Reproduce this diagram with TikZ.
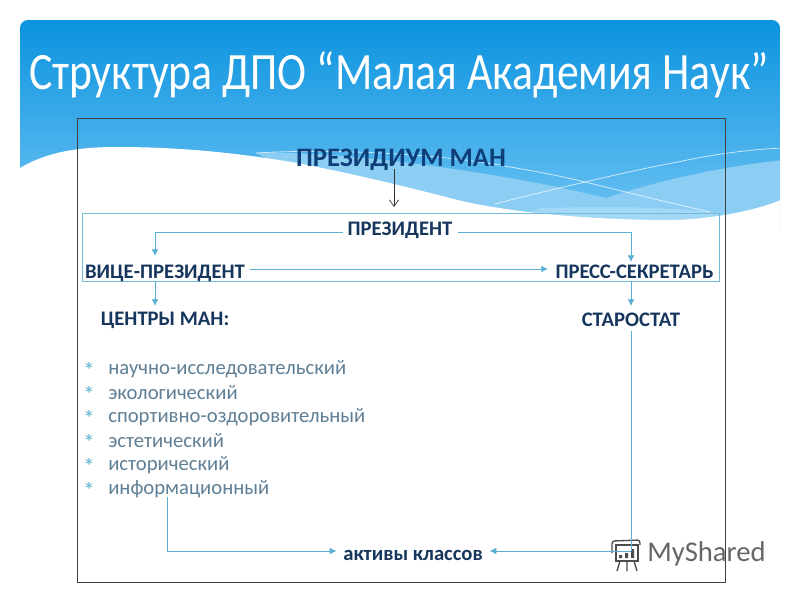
\documentclass[tikz,border=0pt]{standalone}
\usepackage{fontspec}
\setmainfont{Carlito}
\usetikzlibrary{positioning,arrows.meta}
\definecolor{deepblue}{HTML}{0B93DF}
\definecolor{midblue}{HTML}{5DBBF0}
\definecolor{paleblue}{HTML}{8CCDF3}
\definecolor{palerblue}{HTML}{A3D7F6}
\definecolor{linkblue}{HTML}{5AB0D2}
\definecolor{inkblue}{HTML}{17365D}
\definecolor{topblue}{HTML}{0F3F78}
\definecolor{listgrey}{HTML}{5F7F96}
\tikzstyle{lnk}=[draw=linkblue,line width=0.6pt]
\tikzstyle{arr}=[lnk,-{Latex[length=5pt,width=5pt]}]
\tikzstyle{head}=[inkblue,font=\fontsize{15.5}{18}\selectfont\bfseries,inner sep=1pt]
\tikzstyle{entry}=[listgrey,font=\fontsize{15.5}{18}\selectfont,inner sep=0pt,anchor=west]
\tikzstyle{bullet}=[linkblue,font=\fontsize{17}{18}\selectfont,inner sep=0pt]
\begin{document}
\begin{tikzpicture}[x=0.75pt,y=-0.75pt]
	\useasboundingbox (0,0) rectangle (800,600);
	\fill[white] (0,0) rectangle (800,600);
	% backdrop
	\begin{scope}
		\clip[rounded corners=6pt] (20,20) rectangle (780,300);
		\shade[top color=deepblue,bottom color=midblue] (20,20) rectangle (780,190);
		\fill[midblue] (20,190) rectangle (780,225);
		\fill[paleblue] (256,153) .. controls (340,150) and (500,172) .. (606,198)
			.. controls (660,180) and (730,165) .. (785,160)
			-- (785,230) -- (400,230) -- cycle;
		\fill[palerblue] (540,208) .. controls (590,207) and (650,205) .. (718,213)
			-- (718,230) -- (500,230) -- cycle;
		\fill[white] (20,168) .. controls (50,150) and (85,147) .. (118,147)
			.. controls (190,147) and (250,155) .. (297,163)
			.. controls (340,171) and (400,185) .. (446,197)
			.. controls (500,212) and (590,220) .. (667,220)
			.. controls (710,220) and (760,210) .. (785,198)
			-- (785,300) -- (15,300) -- cycle;
		\draw[white,opacity=0.7,line width=0.6pt] (256,153) .. controls (340,148) and (450,155) .. (510,167)
			.. controls (540,172) and (560,176) .. (585,182)
			.. controls (630,193) and (670,203) .. (710,212);
		\draw[white,opacity=0.7,line width=0.6pt] (495,204) .. controls (525,196) and (555,189) .. (585,182)
			.. controls (615,175) and (650,167) .. (678,162)
			.. controls (710,155) and (750,149) .. (785,148);
	\end{scope}
	% frames
	\draw[black!75,line width=0.7pt] (77,118) rectangle (725,582);
	\draw[linkblue!85,line width=0.6pt] (82,213) rectangle (719,281);
	% title
	\node[white,font=\fontsize{32.8}{40}\selectfont,inner sep=0pt] (title) at (399,75) {\scalebox{1}[1.2]{Структура ДПО “Малая Академия Наук”}};
	% nodes
	\node[head,font=\fontsize{20}{24}\selectfont\bfseries,text=topblue] (presidium) at (401,160) {ПРЕЗИДИУМ МАН};
	\node[head] (president) at (400,230) {ПРЕЗИДЕНТ};
	\node[head] (vice) at (165,273) {ВИЦЕ-ПРЕЗИДЕНТ};
	\node[head] (press) at (634.5,272) {ПРЕСС-СЕКРЕТАРЬ};
	\node[head] (centers) at (165,320) {ЦЕНТРЫ МАН:};
	\node[head] (starostat) at (631,320) {СТАРОСТАТ};
	\node[head,inner xsep=5pt] (aktiv) at (413,555) {активы классов};
	\node[entry] (e1) at (108,369) {научно-исследовательский};
	\node[entry] (e2) at (108,393) {экологический};
	\node[entry] (e3) at (108,417) {спортивно-оздоровительный};
	\node[entry] (e4) at (108,441) {эстетический};
	\node[entry] (e5) at (108,465) {исторический};
	\node[entry] (e6) at (108,489) {информационный};
	\foreach \y in {369,393,417,441,465,489}
		\node[bullet] at (89,\y+1) {*};
	% watermark
	\node[black!60,font=\fontsize{21.5}{26}\selectfont,inner sep=0pt,anchor=west] (mark) at (647,554) {MyShared};
	\draw[black!70,line width=1pt] (616,545) rectangle (638,561);
	\draw[black!70,line width=1pt,rounded corners=2pt] (612,553) -- (612,541) -- (640,540) -- (640,545);
	\draw[black!70,line width=1pt] (620,561) -- (617,571) (634,561) -- (637,571) (627,561) -- (627,571);
	\fill[black!70] (619,555) rectangle +(3,3) (625,553) rectangle +(3,5) (631,549) rectangle +(3,9);
	% links
	\coordinate (w1) at (155,232);
	\coordinate (w2) at (631,232);
	\coordinate (w3) at (167,551);
	\coordinate (w4) at (631,551);
	\coordinate (p1) at (343,232);
	\coordinate (p2) at (458,232);
	\coordinate (v1) at (155,281);
	\coordinate (v2) at (155,306);
	\coordinate (s1) at (631,281);
	\coordinate (s2) at (631,306);
	\coordinate (t1) at (394,169);
	\coordinate (t2) at (394,207);
	\coordinate (h1) at (250,269);
	\coordinate (h2) at (548,269);
	\draw[black!80,line width=0.5pt,-{Straight Barb[length=5pt,width=7pt]}] (t1) -- (t2);
	\draw[arr] (p1) -- (w1) -- (155,256);
	\draw[arr] (p2) -- (w2) -- (631,262);
	\draw[arr] (h1) -- (h2);
	\draw[arr] (v1) -- (v2);
	\draw[arr] (s1) -- (s2);
	\draw[arr] (167,497) -- (w3) -- (aktiv.west |- w3);
	\draw[lnk] (631,331) -- (w4);
	\draw[arr] (w4) -- (aktiv.east |- w4);
\end{tikzpicture}
\end{document}
